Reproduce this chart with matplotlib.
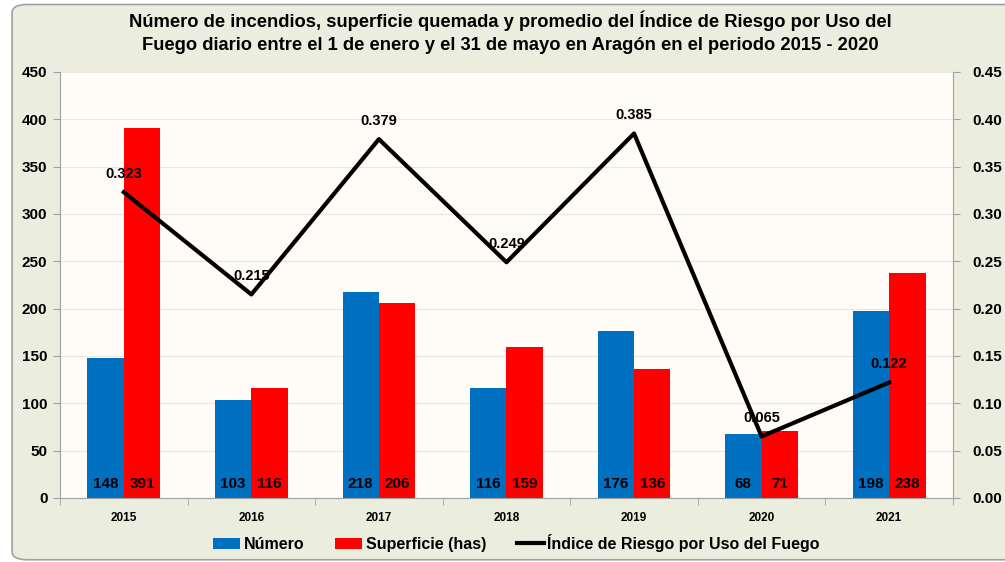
import numpy as np
import matplotlib.pyplot as plt
from matplotlib.patches import FancyBboxPatch, Patch
from matplotlib.lines import Line2D

plt.rcParams['font.family'] = ['Liberation Sans', 'DejaVu Sans']

years = ["2015", "2016", "2017", "2018", "2019", "2020", "2021"]
numero = [148, 103, 218, 116, 176, 68, 198]
superficie = [391, 116, 206, 159, 136, 71, 238]
indice = [0.323, 0.215, 0.379, 0.249, 0.385, 0.065, 0.122]

title = ("Número de incendios, superficie quemada y promedio del Índice de Riesgo por Uso del\n"
         "Fuego diario entre el 1 de enero y el 31 de mayo en Aragón en el periodo 2015 - 2020")

bg = "#EBEEDF"
plot_bg = "#FFFCF7"
blue = "#0070C0"
red = "#FF0000"

fig = plt.figure(figsize=(10.05, 5.62), dpi=100)
fig.patch.set_facecolor("white")
frame = FancyBboxPatch((0.012, 0.004), 1.05, 0.988, boxstyle="round,pad=0,rounding_size=0.015",
                       transform=fig.transFigure, facecolor=bg, edgecolor="#A0A0A0",
                       linewidth=1.2, zorder=-10)
fig.patches.append(frame)

ax = fig.add_axes([0.0597, 0.1139, 0.8885, 0.7581])
ax.set_facecolor(plot_bg)
x = np.arange(len(years))
w = 0.285
b1 = ax.bar(x - w / 2, numero, w, color=blue, zorder=2)
b2 = ax.bar(x + w / 2, superficie, w, color=red, zorder=2)
for bars, vals in ((b1, numero), (b2, superficie)):
    for rect, v in zip(bars, vals):
        ax.annotate(str(v), (rect.get_x() + rect.get_width() / 2, 0), xytext=(0, 10),
                    textcoords="offset points", ha="center", va="center",
                    fontsize=11, fontweight="bold", color="black", zorder=4)

ax.set_ylim(0, 450)
ax.set_yticks(np.arange(0, 451, 50))
ax.set_xlim(-0.5, len(years) - 0.5)
ax.set_xticks(x)
ax.set_xticklabels(years, fontsize=8.5, fontweight="bold")
ax.set_xticks(np.arange(-0.5, len(years)), minor=True)
ax.tick_params(axis="x", which="major", length=0, pad=10)
ax.tick_params(axis="x", which="minor", length=5, color="#A0A0A0")
ax.tick_params(axis="y", labelsize=11, length=5, color="#A0A0A0", pad=4)
for lab in ax.get_yticklabels():
    lab.set_fontweight("bold")
ax.grid(axis="y", color="#EAE6E0", linewidth=0.8, zorder=0)
for side in ("top", "right"):
    ax.spines[side].set_visible(False)
ax.spines["left"].set_color("#A0A0A0")
ax.spines["bottom"].set_color("#A0A0A0")

ax2 = ax.twinx()
ax2.plot(x, indice, color="black", linewidth=3, zorder=5)
ax2.set_ylim(0, 0.45)
ax2.set_yticks(np.arange(0, 0.451, 0.05))
ax2.set_yticklabels([f"{v:.2f}" for v in np.arange(0, 0.451, 0.05)], fontsize=11, fontweight="bold")
ax2.tick_params(axis="y", length=5, color="#A0A0A0", pad=9)
for side in ("top", "left", "bottom"):
    ax2.spines[side].set_visible(False)
ax2.spines["right"].set_color("#A0A0A0")
for xi, v in zip(x, indice):
    ax2.annotate(f"{v:.3f}", (xi, v), xytext=(0, 13), textcoords="offset points",
                 ha="center", va="center", fontsize=10.5, fontweight="bold", zorder=6)

fig.text(0.508, 0.943, title, ha="center", va="center", fontsize=13.2, fontweight="bold",
         linespacing=1.45)

handles = [Patch(facecolor=blue), Patch(facecolor=red),
           Line2D([0], [0], color="black", linewidth=3)]
fig.legend(handles, ["Número", "Superficie (has)", "Índice de Riesgo por Uso del Fuego"],
           loc="center", bbox_to_anchor=(0.514, 0.034), ncol=3, frameon=False,
           prop={"weight": "bold", "size": 11.5}, handlelength=1.7, handletextpad=0.2,
           columnspacing=1.95)

fig.savefig("out.png", dpi=100, facecolor=fig.get_facecolor())
